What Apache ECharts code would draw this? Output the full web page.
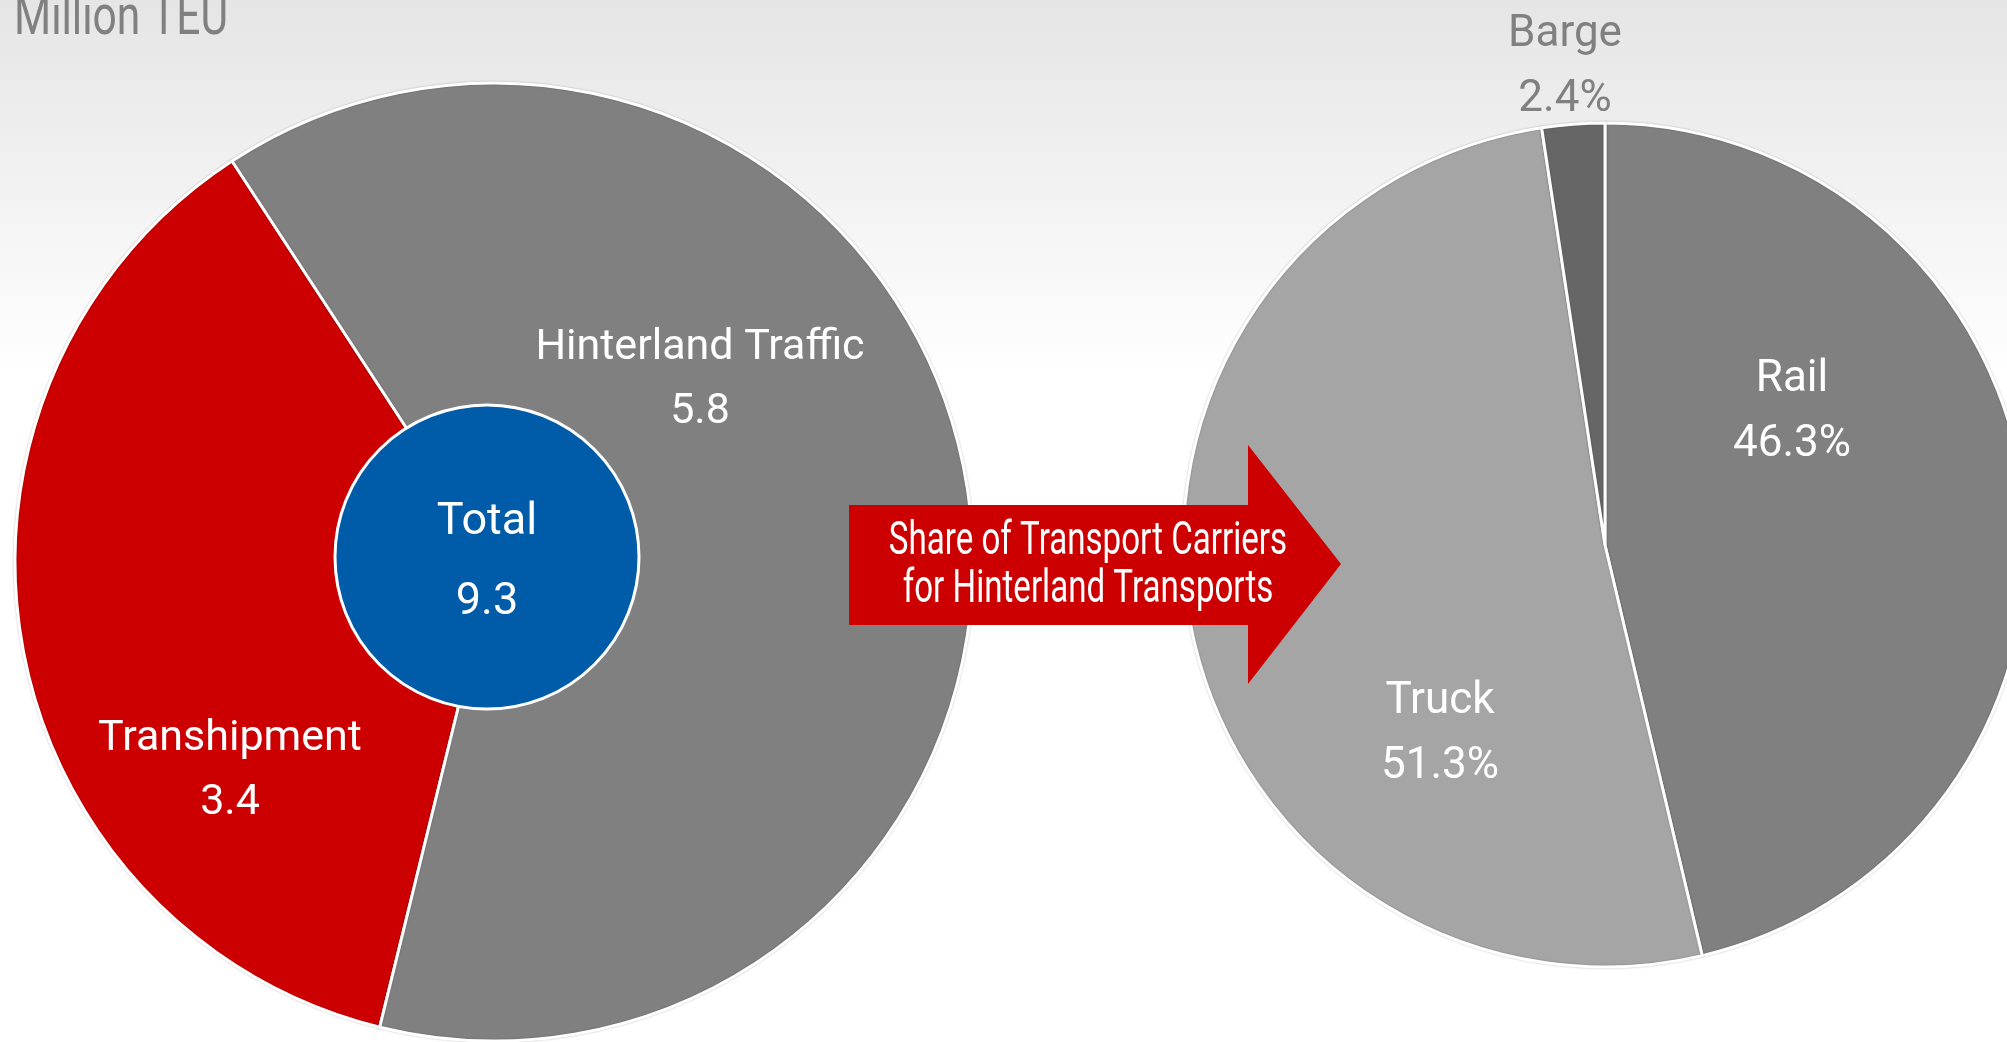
<!DOCTYPE html>
<html>
<head>
<meta charset="utf-8">
<script src="https://cdn.jsdelivr.net/npm/echarts@6/dist/echarts.min.js"></script>
<style>
  html, body { margin: 0; padding: 0; background: #fff; }
  #chart { width: 2007px; height: 1042px; }
</style>
</head>
<body>
<div id="chart"></div>
<script>
// container volume, million TEU
let volumeNames = ["Transhipment", "Hinterland Traffic"];
let volumeValues = [3.4, 5.8];
let totalName = "Total";
let totalValue = 9.3;

// modal split of hinterland transports, %
let carrierNames = ["Rail", "Truck", "Barge"];
let carrierValues = [46.3, 51.3, 2.4];

let unitText = "Million TEU";
let arrowText = "Share of Transport Carriers\nfor Hinterland Transports";

let FONT = "Roboto, 'Liberation Sans', sans-serif";

// where the labels sit (label centre, px)
let volumeLabelPos = [[230, 771], [700, 380]];
let carrierLabelPos = [[1792, 412], [1440, 734], [1565, 67]];

let myChart = echarts.init(document.getElementById('chart'));

let volumeColors = ['#cc0000', '#808080'];
let carrierColors = ['#808080', '#a5a5a5', '#666666'];

let option = {
    backgroundColor: {
        type: 'linear', x: 0, y: 0, x2: 0, y2: 1,
        colorStops: [
            {offset: 0, color: '#e5e5e5'},
            {offset: 0.36, color: '#ffffff'},
            {offset: 1, color: '#ffffff'}
        ]
    },
    animation: false,
    graphic: [
        {
            type: 'text',
            x: 14,
            y: 20,
            scaleX: 0.76,
            style: {
                text: unitText,
                fill: '#808080',
                font: '56px ' + FONT,
                verticalAlign: 'middle'
            }
        },
        {
            type: 'polygon',
            z: 10,
            shape: {
                points: [[849, 505], [1248, 505], [1248, 445], [1341, 564],
                         [1248, 684], [1248, 625], [849, 625]]
            },
            style: {fill: '#cc0000'}
        },
        {
            type: 'text',
            z: 11,
            x: 1088,
            y: 566,
            scaleX: 0.72,
            style: {
                text: arrowText,
                fill: '#ffffff',
                font: '46px ' + FONT,
                lineHeight: 48,
                align: 'center',
                verticalAlign: 'middle'
            }
        }
    ],
    series: [
        {
            type: 'pie',
            center: [494, 562],
            radius: 479,
            startAngle: 256.2,
            clockwise: true,
            avoidLabelOverlap: false,
            silent: true,
            itemStyle: {
                borderColor: '#ffffff', borderWidth: 3,
                shadowBlur: 2, shadowColor: 'rgba(0,0,0,0.25)'
            },
            label: {
                show: true,
                position: 'inside',
                formatter: '{b}\n{c}',
                color: '#ffffff',
                fontFamily: FONT,
                fontSize: 43,
                lineHeight: 64,
                align: 'center',
                verticalAlign: 'middle'
            },
            labelLine: {show: false},
            labelLayout: function (params) {
                let p = volumeLabelPos[params.dataIndex];
                return {x: p[0], y: p[1]};
            },
            data: volumeNames.map(function (n, i) {
                return {name: n, value: volumeValues[i], itemStyle: {color: volumeColors[i]}};
            })
        },
        {
            type: 'pie',
            center: [487, 557],
            radius: 152,
            z: 3,
            silent: true,
            itemStyle: {color: '#005ba9', borderColor: '#ffffff', borderWidth: 3},
            label: {
                show: true,
                position: 'center',
                formatter: '{b}\n{c}',
                color: '#ffffff',
                fontFamily: FONT,
                fontSize: 45,
                lineHeight: 80
            },
            labelLine: {show: false},
            labelLayout: {dy: 6},
            data: [{name: totalName, value: totalValue}]
        },
        {
            type: 'pie',
            center: [1605, 545],
            radius: 422,
            startAngle: 90,
            clockwise: true,
            avoidLabelOverlap: false,
            silent: true,
            itemStyle: {
                borderColor: '#ffffff', borderWidth: 3,
                shadowBlur: 2, shadowColor: 'rgba(0,0,0,0.25)'
            },
            label: {
                show: true,
                position: 'inside',
                formatter: '{b}\n{c}%',
                color: '#ffffff',
                fontFamily: FONT,
                fontSize: 44,
                lineHeight: 65,
                align: 'center',
                verticalAlign: 'middle'
            },
            labelLine: {show: false},
            labelLayout: function (params) {
                let p = carrierLabelPos[params.dataIndex];
                return {x: p[0], y: p[1]};
            },
            data: carrierNames.map(function (n, i) {
                let d = {name: n, value: carrierValues[i], itemStyle: {color: carrierColors[i]}};
                if (n === 'Barge') d.label = {color: '#808080'};
                return d;
            })
        }
    ]
};

myChart.setOption(option);
</script>
</body>
</html>
